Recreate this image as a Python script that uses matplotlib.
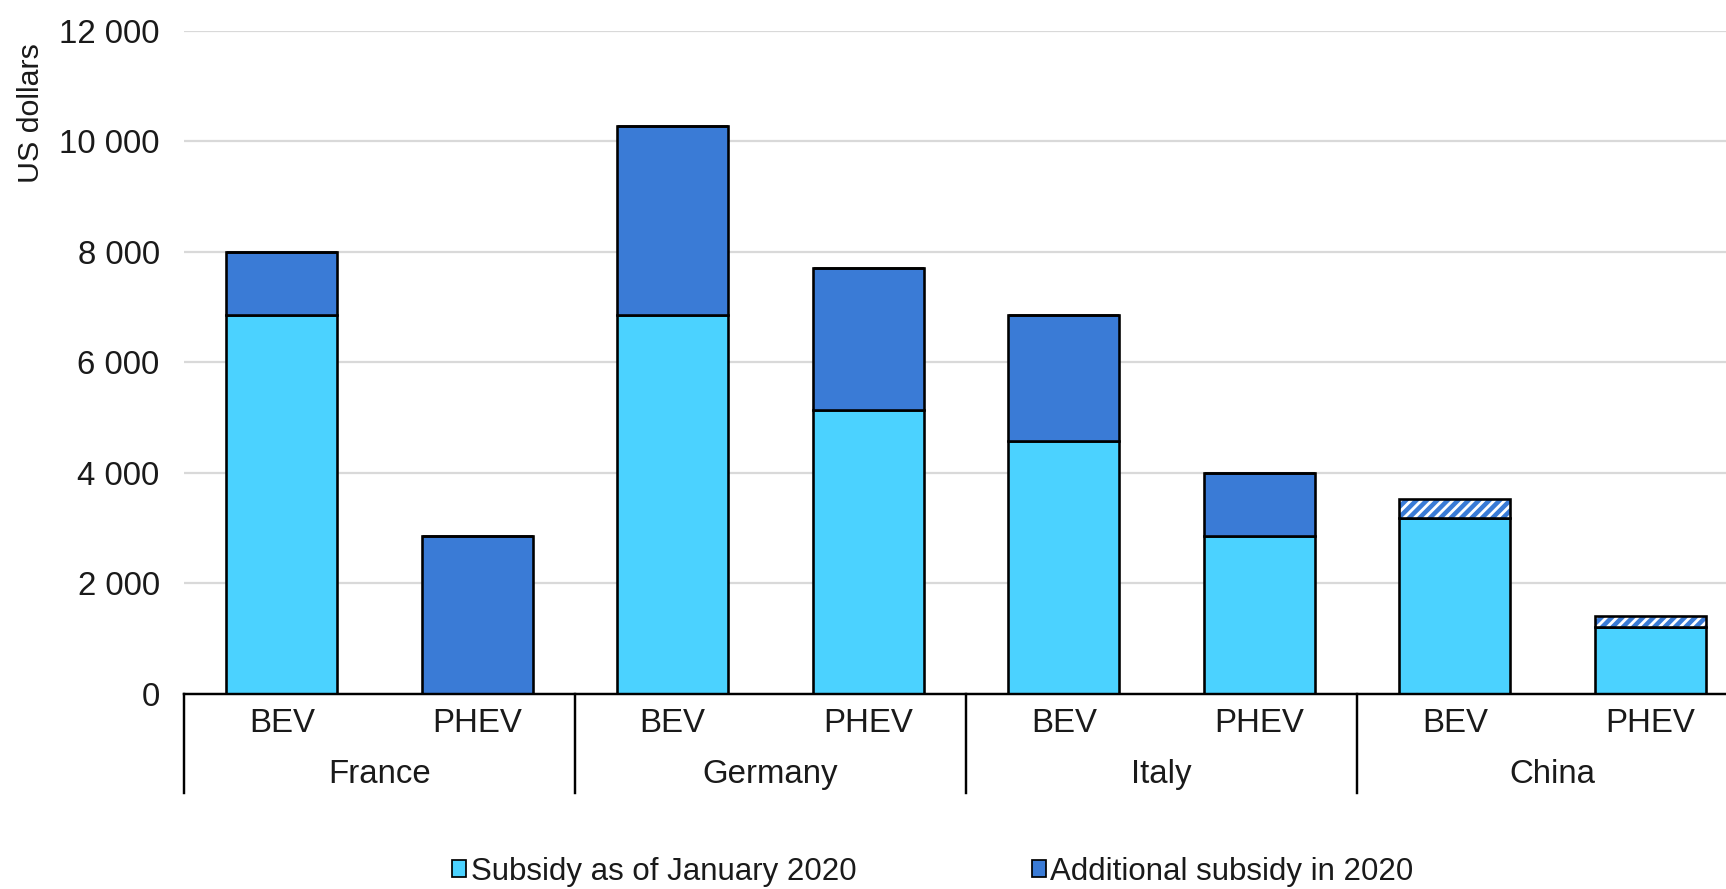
import matplotlib
matplotlib.use("Agg")
import matplotlib.pyplot as plt
from matplotlib.patches import Patch
from matplotlib.ticker import FuncFormatter

plt.rcParams['font.family'] = ['Liberation Sans', 'DejaVu Sans']
plt.rcParams['hatch.linewidth'] = 2.6

countries = ["France", "Germany", "Italy", "China"]
powertrains = ["BEV", "PHEV"]
subsidy_jan2020 = [6850, 0, 6850, 5130, 4570, 2850, 3180, 1200]
additional_2020 = [1150, 2850, 3430, 2570, 2280, 1150, 0, 0]
hatched_extra = [0, 0, 0, 0, 0, 0, 350, 200]
yticks = [0, 2000, 4000, 6000, 8000, 10000, 12000]

light = "#4BD2FF"
dark = "#3A7BD6"

W, H, DPI = 1726, 889, 125
fig = plt.figure(figsize=(W / DPI, H / DPI), dpi=DPI)
ax = fig.add_axes([184 / W, 195.5 / H, 1564 / W, 662.7 / H])

n = len(subsidy_jan2020)
x = list(range(n))
bw = 0.57
elw = 1.5
ax.bar(x, subsidy_jan2020, width=bw, color=light, edgecolor="black", linewidth=elw, zorder=3)
ax.bar(x, additional_2020, width=bw, bottom=subsidy_jan2020, color=dark,
       edgecolor="black", linewidth=elw, zorder=3)
bottoms2 = [a + b for a, b in zip(subsidy_jan2020, additional_2020)]
ax.bar(x, hatched_extra, width=bw, bottom=bottoms2, color="white", edgecolor=dark,
       hatch="////", linewidth=0, zorder=3)
ax.bar(x, hatched_extra, width=bw, bottom=bottoms2, fill=False, edgecolor="black",
       linewidth=elw, zorder=4)

ax.set_xlim(-0.5, n - 0.5)
ax.set_ylim(0, 12000)
ax.set_yticks(yticks)
ax.yaxis.set_major_formatter(FuncFormatter(lambda v, p: f"{int(v):,}".replace(",", " ")))
ax.tick_params(axis="y", length=0, pad=14, labelsize=19, colors="#1a1a1a")
ax.set_xticks([])
ax.grid(axis="y", color="#D9D9D9", linewidth=1.3, zorder=0)
for s in ["left", "right", "top"]:
    ax.spines[s].set_visible(False)
ax.spines["bottom"].set_linewidth(1.4)
ax.spines["bottom"].set_zorder(5)

trans = ax.get_xaxis_transform()
for i in range(n):
    ax.text(i, -0.046, powertrains[i % 2], transform=trans, ha="center", va="center",
            fontsize=19, color="#1a1a1a")
for j, c in enumerate(countries):
    ax.text(2 * j + 0.5, -0.1215, c, transform=trans, ha="center", va="center",
            fontsize=19, color="#1a1a1a")
for j in range(len(countries) + 1):
    ax.plot([2 * j - 0.5, 2 * j - 0.5], [0, -0.15], transform=trans, color="black",
            linewidth=1.4, clip_on=False)

fig.text(31 / W, 1 - 113 / H, "US dollars", rotation=90, ha="center", va="center",
         fontsize=17.5, color="#1a1a1a")

handles = [Patch(facecolor=light, edgecolor="black", linewidth=1.0),
           Patch(facecolor=dark, edgecolor="black", linewidth=1.0)]
fig.legend(handles, ["Subsidy as of January 2020", "Additional subsidy in 2020"],
           loc="center", bbox_to_anchor=(933 / W, 1 - 872 / H), ncol=2, frameon=False,
           fontsize=18, handlelength=0.45, handleheight=0.45, handletextpad=0.15,
           columnspacing=5.6, labelcolor="#1a1a1a")

fig.savefig("out.png", dpi=DPI)
